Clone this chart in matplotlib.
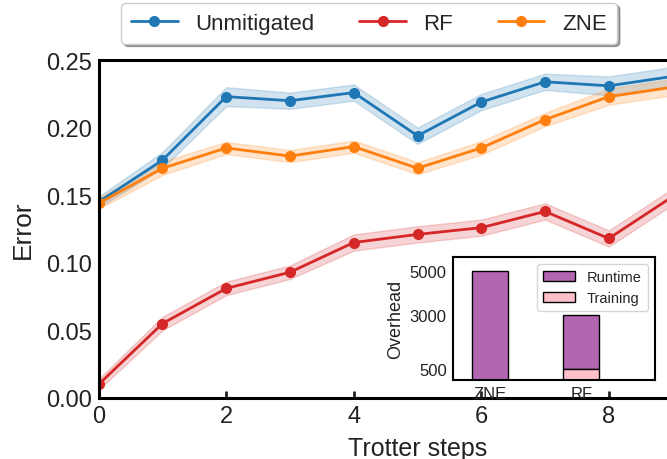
import matplotlib
matplotlib.use("Agg")
import matplotlib.pyplot as plt
import seaborn as sns
import numpy as np

sns.set_style("white")
plt.rcParams['font.family'] = ['Liberation Sans', 'DejaVu Sans']

steps = [0, 1, 2, 3, 4, 5, 6, 7, 8, 9, 10]
unmit = [0.145, 0.176, 0.223, 0.220, 0.226, 0.194, 0.219, 0.234, 0.231, 0.238, 0.242]
rf = [0.010, 0.055, 0.081, 0.093, 0.115, 0.121, 0.126, 0.138, 0.118, 0.149, 0.155]
zne = [0.144, 0.170, 0.185, 0.179, 0.186, 0.170, 0.185, 0.206, 0.223, 0.230, 0.234]
unmit_err = [0.004, 0.006, 0.007, 0.006, 0.006, 0.006, 0.006, 0.006, 0.007, 0.007, 0.007]
rf_err = [0.004, 0.005, 0.005, 0.005, 0.006, 0.006, 0.006, 0.006, 0.006, 0.006, 0.006]
zne_err = [0.004, 0.005, 0.0045, 0.0045, 0.0045, 0.0045, 0.005, 0.005, 0.006, 0.006, 0.006]

methods = ["ZNE", "RF"]
runtime = [5000, 2500]
training = [0, 500]

fig = plt.figure(figsize=(6.67, 4.6), dpi=100)
ax = fig.add_axes([0.148, 0.133, 0.956, 0.734])

series = [("Unmitigated", unmit, unmit_err, "tab:blue"),
          ("RF", rf, rf_err, "tab:red"),
          ("ZNE", zne, zne_err, "tab:orange")]
for name, vals, err, c in series:
    v = np.array(vals)
    e = np.array(err)
    ax.plot(steps, v, "-o", color=c, lw=2, ms=7, label=name)
    ax.fill_between(steps, v - e, v + e, color=c, alpha=0.2)

ax.set_xlim(0, 10)
ax.set_ylim(0, 0.25)
ax.set_xticks([0, 2, 4, 6, 8])
ax.set_yticks([0, 0.05, 0.1, 0.15, 0.2, 0.25])
ax.tick_params(labelsize=17, direction="in", length=5, width=2, bottom=True, left=False,
               colors="#222222", pad=5)
for s in ax.spines.values():
    s.set_linewidth(2.2)
    s.set_color("black")
ax.set_xlabel("Trotter steps", fontsize=18, color="#222222", labelpad=7)
ax.set_ylabel("Error", fontsize=19, color="#222222", labelpad=8)
ax.legend(loc="lower center", bbox_to_anchor=(0.424, 1.016), ncol=3, fontsize=16,
          frameon=True, fancybox=True, shadow=True, columnspacing=2.0,
          handlelength=2.1, borderpad=0.45)

ins = fig.add_axes([0.679, 0.172, 0.303, 0.267])
x = np.arange(len(methods))
ins.bar(x, runtime, 0.4, bottom=training, color="#b266b2", edgecolor="black",
        linewidth=1, label="Runtime")
ins.bar(x, training, 0.4, color="pink", edgecolor="black", linewidth=1, label="Training")
ins.set_xlim(-0.41, 1.81)
ins.set_ylim(0, 5650)
ins.set_xticks(x)
ins.set_xticklabels(methods)
ins.set_yticks([500, 3000, 5000])
ins.tick_params(labelsize=12, pad=1, colors="#222222")
ins.set_ylabel("Overhead", fontsize=13, color="#222222", labelpad=4)
for s in ins.spines.values():
    s.set_linewidth(1.5)
    s.set_color("black")
ins.legend(loc="upper right", fontsize=10.5, frameon=True, handlelength=2.2)

fig.savefig("out.png", dpi=100)
